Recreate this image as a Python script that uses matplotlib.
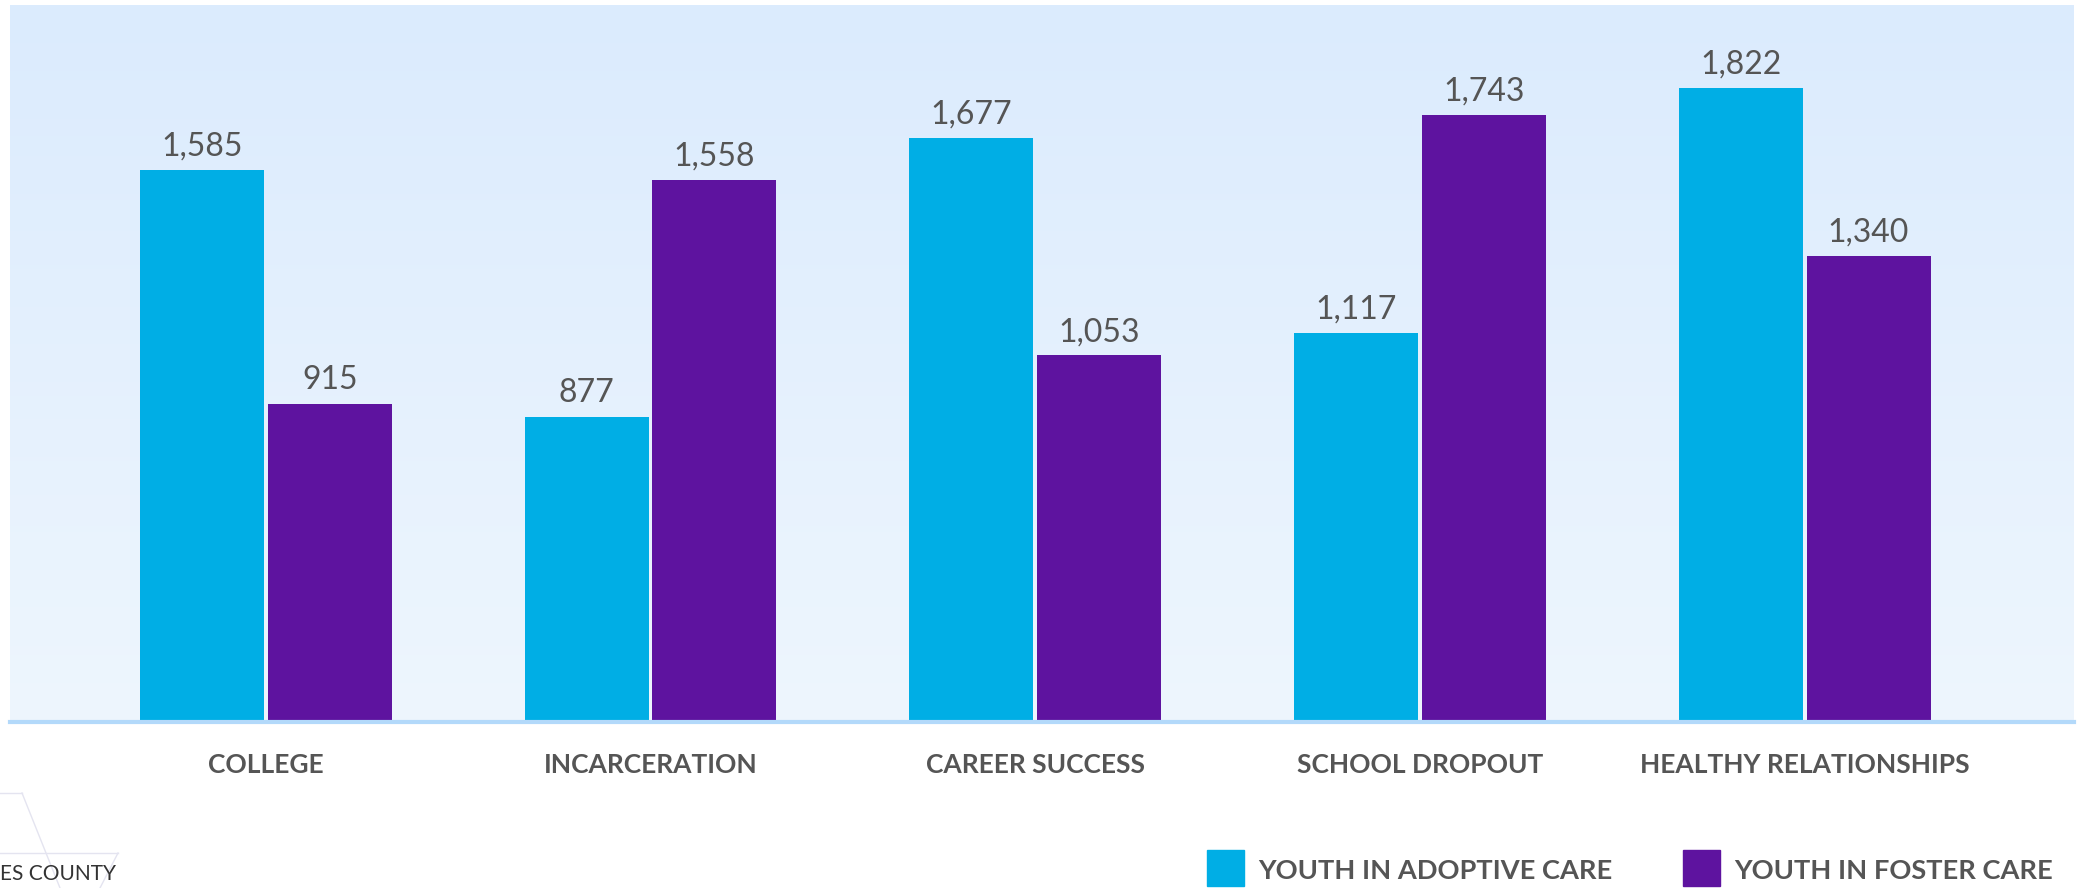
import matplotlib
matplotlib.use("Agg")
import matplotlib.pyplot as plt
import numpy as np
from matplotlib.patches import Rectangle
from matplotlib.lines import Line2D
from matplotlib.colors import LinearSegmentedColormap

categories = ["COLLEGE", "INCARCERATION", "CAREER SUCCESS", "SCHOOL DROPOUT", "HEALTHY RELATIONSHIPS"]
series_names = ["YOUTH IN ADOPTIVE CARE", "YOUTH IN FOSTER CARE"]
adoptive = [1585, 877, 1677, 1117, 1822]
foster = [915, 1558, 1053, 1743, 1340]
colors = ["#00AEE5", "#5E139F"]

W, H = 2085, 888
fig = plt.figure(figsize=(W / 100, H / 100), dpi=100)
fig.patch.set_facecolor("white")
plt.rcParams['font.family'] = ['Lato', 'DejaVu Sans']

ax = fig.add_axes([10 / W, 1 - 722 / H, (2074 - 10) / W, (722 - 5) / H])
ymax = 2060
ax.set_xlim(-0.665, 4.70)
ax.set_ylim(0, ymax)

# gradient background
grad = np.linspace(0, 1, 256).reshape(-1, 1)
cmap = LinearSegmentedColormap.from_list("bg", ["#EEF6FE", "#DBEBFD"])
ax.imshow(grad, aspect="auto", cmap=cmap, origin="lower",
          extent=[-0.665, 4.70, 0, ymax], zorder=0)

x = np.arange(len(categories))
bw = 0.322
off = 0.166
b1 = ax.bar(x - off, adoptive, bw, color=colors[0], zorder=2)
b2 = ax.bar(x + off, foster, bw, color=colors[1], zorder=2)

for bars, vals in ((b1, adoptive), (b2, foster)):
    for r, v in zip(bars, vals):
        ax.annotate(f"{v:,}", (r.get_x() + r.get_width() / 2, v),
                    xytext=(0, 6), textcoords="offset points",
                    ha="center", va="bottom", fontsize=23, color="#555555")

for s in ["top", "right", "left"]:
    ax.spines[s].set_visible(False)
ax.spines["bottom"].set_color("#B3D9FA")
ax.spines["bottom"].set_linewidth(3)
ax.set_yticks([])
ax.set_xticks(x)
ax.set_xticklabels(categories, fontsize=19, fontweight="bold", color="#555555")
ax.tick_params(axis="x", length=0, pad=22)

# legend
lx = [1207, 1683]
for i, (name, c) in enumerate(zip(series_names, colors)):
    fig.patches.append(Rectangle((lx[i] / W, 1 - 886 / H), 37 / W, 36 / H,
                                 transform=fig.transFigure, color=c))
    fig.text((lx[i] + 51) / W, 1 - 871 / H, name, fontsize=19.6, fontweight="bold",
             color="#555555", va="center", ha="left")

# decorative faint lines + partial text at bottom left
for (x0, y0, x1, y1) in [(0, 793, 22, 793), (22, 793, 60, 888), (0, 853, 118, 853), (118, 853, 100, 888)]:
    fig.add_artist(Line2D([x0 / W, x1 / W], [1 - y0 / H, 1 - y1 / H], color="#E4E4F0", lw=1))
fig.text(0 / W, 1 - 874 / H, "ES COUNTY", fontsize=15, color="#333333", va="center", ha="left")

fig.savefig("out.png", dpi=100)
